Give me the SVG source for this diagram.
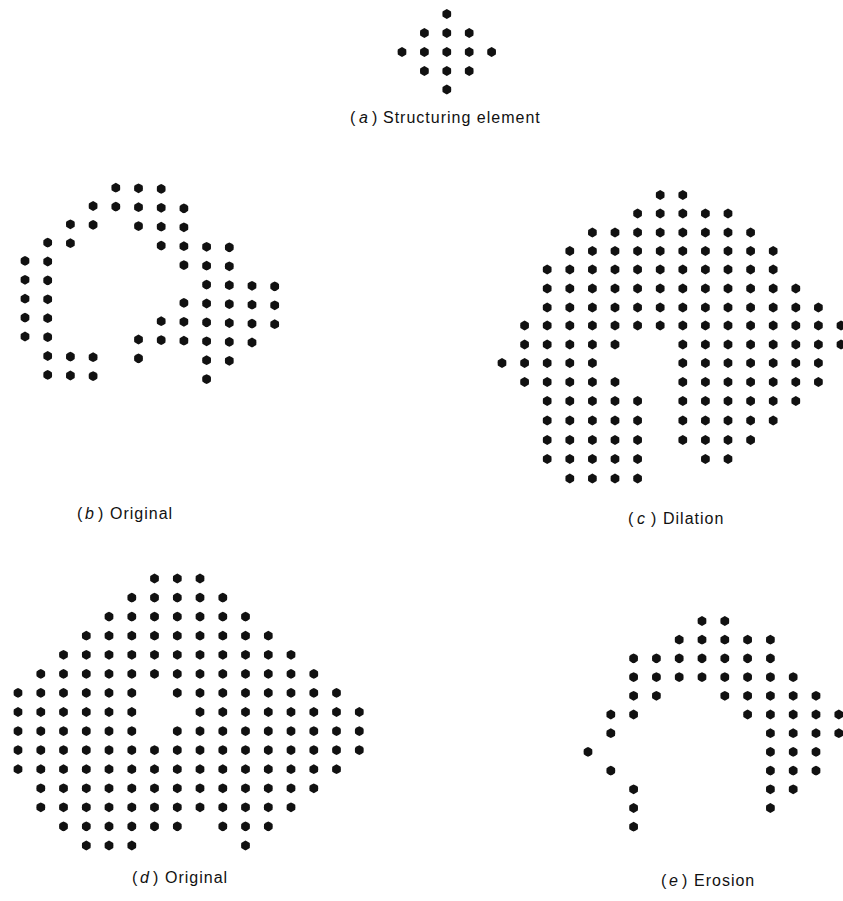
<svg xmlns="http://www.w3.org/2000/svg" width="843" height="901" viewBox="0 0 843 901">
<style>
.dot{fill:#111}
.lbl{font-family:"Liberation Sans",Arial,sans-serif;font-size:16px;fill:#111;letter-spacing:1px}
.it{font-style:italic}
</style>
<defs>
<polygon id="dot" class="dot" points="0,-4.9 2.2,-3.81 4.24,-2.45 4.4,0 4.24,2.45 2.2,3.81 0,4.9 -2.2,3.81 -4.24,2.45 -4.4,0 -4.24,-2.45 -2.2,-3.81"/>
</defs>
<rect width="843" height="901" fill="#fff"/>

<g id="panel-a">
<use href="#dot" x="446.8" y="14"/>
<use href="#dot" x="424.4" y="33"/><use href="#dot" x="446.8" y="33"/><use href="#dot" x="469.2" y="33"/>
<use href="#dot" x="402" y="52"/><use href="#dot" x="424.4" y="52"/><use href="#dot" x="446.8" y="52"/><use href="#dot" x="469.2" y="52"/><use href="#dot" x="491.6" y="52"/>
<use href="#dot" x="424.4" y="71"/><use href="#dot" x="446.8" y="71"/><use href="#dot" x="469.2" y="71"/>
<use href="#dot" x="446.8" y="89.5"/>
<text class="lbl" y="123"><tspan x="350">(</tspan><tspan x="359" class="it">a</tspan><tspan x="372">)</tspan><tspan x="383">Structuring element</tspan></text>
</g>

<g id="panel-b">
<use href="#dot" x="115.8" y="187.7"/><use href="#dot" x="138.5" y="188.3"/><use href="#dot" x="161.2" y="188.9"/>
<use href="#dot" x="93.1" y="206.0"/><use href="#dot" x="115.8" y="206.6"/><use href="#dot" x="138.5" y="207.2"/><use href="#dot" x="161.2" y="207.8"/><use href="#dot" x="183.9" y="208.4"/>
<use href="#dot" x="70.4" y="224.3"/><use href="#dot" x="93.1" y="224.9"/><use href="#dot" x="138.5" y="226.1"/><use href="#dot" x="161.2" y="226.7"/><use href="#dot" x="183.9" y="227.3"/>
<use href="#dot" x="47.7" y="242.6"/><use href="#dot" x="70.4" y="243.2"/><use href="#dot" x="161.2" y="245.6"/><use href="#dot" x="183.9" y="246.2"/><use href="#dot" x="206.6" y="246.8"/><use href="#dot" x="229.3" y="247.4"/>
<use href="#dot" x="25" y="260.9"/><use href="#dot" x="47.7" y="261.5"/><use href="#dot" x="183.9" y="265.1"/><use href="#dot" x="206.6" y="265.7"/><use href="#dot" x="229.3" y="266.3"/>
<use href="#dot" x="25" y="279.8"/><use href="#dot" x="47.7" y="280.4"/><use href="#dot" x="206.6" y="284.6"/><use href="#dot" x="229.3" y="285.2"/><use href="#dot" x="252" y="285.8"/><use href="#dot" x="274.7" y="286.4"/>
<use href="#dot" x="25" y="298.7"/><use href="#dot" x="47.7" y="299.3"/><use href="#dot" x="183.9" y="302.9"/><use href="#dot" x="206.6" y="303.5"/><use href="#dot" x="229.3" y="304.1"/><use href="#dot" x="252" y="304.7"/><use href="#dot" x="274.7" y="305.3"/>
<use href="#dot" x="25" y="317.6"/><use href="#dot" x="47.7" y="318.2"/><use href="#dot" x="161.2" y="321.2"/><use href="#dot" x="183.9" y="321.8"/><use href="#dot" x="206.6" y="322.4"/><use href="#dot" x="229.3" y="323.0"/><use href="#dot" x="252" y="323.6"/><use href="#dot" x="274.7" y="324.2"/>
<use href="#dot" x="25" y="336.5"/><use href="#dot" x="47.7" y="337.1"/><use href="#dot" x="138.5" y="339.5"/><use href="#dot" x="161.2" y="340.1"/><use href="#dot" x="183.9" y="340.7"/><use href="#dot" x="206.6" y="341.3"/><use href="#dot" x="229.3" y="341.9"/><use href="#dot" x="252" y="342.5"/>
<use href="#dot" x="47.7" y="356.0"/><use href="#dot" x="70.4" y="356.6"/><use href="#dot" x="93.1" y="357.2"/><use href="#dot" x="138.5" y="358.4"/><use href="#dot" x="206.6" y="360.2"/><use href="#dot" x="229.3" y="360.8"/>
<use href="#dot" x="47.7" y="374.9"/><use href="#dot" x="70.4" y="375.5"/><use href="#dot" x="93.1" y="376.1"/><use href="#dot" x="206.6" y="379.1"/>
<text class="lbl" y="519"><tspan x="77">(</tspan><tspan x="85" class="it">b</tspan><tspan x="98">)</tspan><tspan x="110">Original</tspan></text>
</g>

<g id="panel-c">
<g transform="translate(0,195)"><use href="#dot" x="660.2"/><use href="#dot" x="682.8"/></g>
<g transform="translate(0,213.5)"><use href="#dot" x="637.6"/><use href="#dot" x="660.2"/><use href="#dot" x="682.8"/><use href="#dot" x="705.4"/><use href="#dot" x="728"/></g>
<g transform="translate(0,232.5)"><use href="#dot" x="592.4"/><use href="#dot" x="615"/><use href="#dot" x="637.6"/><use href="#dot" x="660.2"/><use href="#dot" x="682.8"/><use href="#dot" x="705.4"/><use href="#dot" x="728"/><use href="#dot" x="750.6"/></g>
<g transform="translate(0,251)"><use href="#dot" x="569.8"/><use href="#dot" x="592.4"/><use href="#dot" x="615"/><use href="#dot" x="637.6"/><use href="#dot" x="660.2"/><use href="#dot" x="682.8"/><use href="#dot" x="705.4"/><use href="#dot" x="728"/><use href="#dot" x="750.6"/><use href="#dot" x="773.2"/></g>
<g transform="translate(0,269.5)"><use href="#dot" x="547.2"/><use href="#dot" x="569.8"/><use href="#dot" x="592.4"/><use href="#dot" x="615"/><use href="#dot" x="637.6"/><use href="#dot" x="660.2"/><use href="#dot" x="682.8"/><use href="#dot" x="705.4"/><use href="#dot" x="728"/><use href="#dot" x="750.6"/><use href="#dot" x="773.2"/></g>
<g transform="translate(0,288.5)"><use href="#dot" x="547.2"/><use href="#dot" x="569.8"/><use href="#dot" x="592.4"/><use href="#dot" x="615"/><use href="#dot" x="637.6"/><use href="#dot" x="660.2"/><use href="#dot" x="682.8"/><use href="#dot" x="705.4"/><use href="#dot" x="728"/><use href="#dot" x="750.6"/><use href="#dot" x="773.2"/><use href="#dot" x="795.8"/></g>
<g transform="translate(0,307.5)"><use href="#dot" x="547.2"/><use href="#dot" x="569.8"/><use href="#dot" x="592.4"/><use href="#dot" x="615"/><use href="#dot" x="637.6"/><use href="#dot" x="660.2"/><use href="#dot" x="682.8"/><use href="#dot" x="705.4"/><use href="#dot" x="728"/><use href="#dot" x="750.6"/><use href="#dot" x="773.2"/><use href="#dot" x="795.8"/><use href="#dot" x="818.4"/></g>
<g transform="translate(0,325.5)"><use href="#dot" x="524.6"/><use href="#dot" x="547.2"/><use href="#dot" x="569.8"/><use href="#dot" x="592.4"/><use href="#dot" x="615"/><use href="#dot" x="637.6"/><use href="#dot" x="660.2"/><use href="#dot" x="682.8"/><use href="#dot" x="705.4"/><use href="#dot" x="728"/><use href="#dot" x="750.6"/><use href="#dot" x="773.2"/><use href="#dot" x="795.8"/><use href="#dot" x="818.4"/><use href="#dot" x="841"/></g>
<g transform="translate(0,344.5)"><use href="#dot" x="524.6"/><use href="#dot" x="547.2"/><use href="#dot" x="569.8"/><use href="#dot" x="592.4"/><use href="#dot" x="615"/><use href="#dot" x="682.8"/><use href="#dot" x="705.4"/><use href="#dot" x="728"/><use href="#dot" x="750.6"/><use href="#dot" x="773.2"/><use href="#dot" x="795.8"/><use href="#dot" x="818.4"/><use href="#dot" x="841"/></g>
<g transform="translate(0,363)"><use href="#dot" x="502"/><use href="#dot" x="524.6"/><use href="#dot" x="547.2"/><use href="#dot" x="569.8"/><use href="#dot" x="592.4"/><use href="#dot" x="682.8"/><use href="#dot" x="705.4"/><use href="#dot" x="728"/><use href="#dot" x="750.6"/><use href="#dot" x="773.2"/><use href="#dot" x="795.8"/><use href="#dot" x="818.4"/></g>
<g transform="translate(0,382)"><use href="#dot" x="524.6"/><use href="#dot" x="547.2"/><use href="#dot" x="569.8"/><use href="#dot" x="592.4"/><use href="#dot" x="615"/><use href="#dot" x="682.8"/><use href="#dot" x="705.4"/><use href="#dot" x="728"/><use href="#dot" x="750.6"/><use href="#dot" x="773.2"/><use href="#dot" x="795.8"/><use href="#dot" x="818.4"/></g>
<g transform="translate(0,401)"><use href="#dot" x="547.2"/><use href="#dot" x="569.8"/><use href="#dot" x="592.4"/><use href="#dot" x="615"/><use href="#dot" x="637.6"/><use href="#dot" x="682.8"/><use href="#dot" x="705.4"/><use href="#dot" x="728"/><use href="#dot" x="750.6"/><use href="#dot" x="773.2"/><use href="#dot" x="795.8"/></g>
<g transform="translate(0,420.5)"><use href="#dot" x="547.2"/><use href="#dot" x="569.8"/><use href="#dot" x="592.4"/><use href="#dot" x="615"/><use href="#dot" x="637.6"/><use href="#dot" x="682.8"/><use href="#dot" x="705.4"/><use href="#dot" x="728"/><use href="#dot" x="750.6"/><use href="#dot" x="773.2"/></g>
<g transform="translate(0,440)"><use href="#dot" x="547.2"/><use href="#dot" x="569.8"/><use href="#dot" x="592.4"/><use href="#dot" x="615"/><use href="#dot" x="637.6"/><use href="#dot" x="682.8"/><use href="#dot" x="705.4"/><use href="#dot" x="728"/><use href="#dot" x="750.6"/></g>
<g transform="translate(0,459)"><use href="#dot" x="547.2"/><use href="#dot" x="569.8"/><use href="#dot" x="592.4"/><use href="#dot" x="615"/><use href="#dot" x="637.6"/><use href="#dot" x="705.4"/><use href="#dot" x="728"/></g>
<g transform="translate(0,478.5)"><use href="#dot" x="569.8"/><use href="#dot" x="592.4"/><use href="#dot" x="615"/><use href="#dot" x="637.6"/></g>
<text class="lbl" y="524"><tspan x="628">(</tspan><tspan x="637" class="it">c</tspan><tspan x="651">)</tspan><tspan x="663">Dilation</tspan></text>
</g>

<g id="panel-d">
<g transform="translate(0,578.5)"><use href="#dot" x="154.5"/><use href="#dot" x="177.3"/><use href="#dot" x="200"/></g>
<g transform="translate(0,597.6)"><use href="#dot" x="131.8"/><use href="#dot" x="154.5"/><use href="#dot" x="177.3"/><use href="#dot" x="200"/><use href="#dot" x="222.8"/></g>
<g transform="translate(0,616.6)"><use href="#dot" x="109"/><use href="#dot" x="131.8"/><use href="#dot" x="154.5"/><use href="#dot" x="177.3"/><use href="#dot" x="200"/><use href="#dot" x="222.8"/><use href="#dot" x="245.5"/></g>
<g transform="translate(0,635.7)"><use href="#dot" x="86.3"/><use href="#dot" x="109"/><use href="#dot" x="131.8"/><use href="#dot" x="154.5"/><use href="#dot" x="177.3"/><use href="#dot" x="200"/><use href="#dot" x="222.8"/><use href="#dot" x="245.5"/><use href="#dot" x="268.3"/></g>
<g transform="translate(0,654.8)"><use href="#dot" x="63.5"/><use href="#dot" x="86.3"/><use href="#dot" x="109"/><use href="#dot" x="131.8"/><use href="#dot" x="154.5"/><use href="#dot" x="177.3"/><use href="#dot" x="200"/><use href="#dot" x="222.8"/><use href="#dot" x="245.5"/><use href="#dot" x="268.3"/><use href="#dot" x="291"/></g>
<g transform="translate(0,673.9)"><use href="#dot" x="40.8"/><use href="#dot" x="63.5"/><use href="#dot" x="86.3"/><use href="#dot" x="109"/><use href="#dot" x="131.8"/><use href="#dot" x="154.5"/><use href="#dot" x="177.3"/><use href="#dot" x="200"/><use href="#dot" x="222.8"/><use href="#dot" x="245.5"/><use href="#dot" x="268.3"/><use href="#dot" x="291"/><use href="#dot" x="313.8"/></g>
<g transform="translate(0,692.9)"><use href="#dot" x="18"/><use href="#dot" x="40.8"/><use href="#dot" x="63.5"/><use href="#dot" x="86.3"/><use href="#dot" x="109"/><use href="#dot" x="131.8"/><use href="#dot" x="177.3"/><use href="#dot" x="200"/><use href="#dot" x="222.8"/><use href="#dot" x="245.5"/><use href="#dot" x="268.3"/><use href="#dot" x="291"/><use href="#dot" x="313.8"/><use href="#dot" x="336.5"/></g>
<g transform="translate(0,712)"><use href="#dot" x="18"/><use href="#dot" x="40.8"/><use href="#dot" x="63.5"/><use href="#dot" x="86.3"/><use href="#dot" x="109"/><use href="#dot" x="131.8"/><use href="#dot" x="200"/><use href="#dot" x="222.8"/><use href="#dot" x="245.5"/><use href="#dot" x="268.3"/><use href="#dot" x="291"/><use href="#dot" x="313.8"/><use href="#dot" x="336.5"/><use href="#dot" x="359.3"/></g>
<g transform="translate(0,731.1)"><use href="#dot" x="18"/><use href="#dot" x="40.8"/><use href="#dot" x="63.5"/><use href="#dot" x="86.3"/><use href="#dot" x="109"/><use href="#dot" x="131.8"/><use href="#dot" x="177.3"/><use href="#dot" x="200"/><use href="#dot" x="222.8"/><use href="#dot" x="245.5"/><use href="#dot" x="268.3"/><use href="#dot" x="291"/><use href="#dot" x="313.8"/><use href="#dot" x="336.5"/><use href="#dot" x="359.3"/></g>
<g transform="translate(0,750.1)"><use href="#dot" x="18"/><use href="#dot" x="40.8"/><use href="#dot" x="63.5"/><use href="#dot" x="86.3"/><use href="#dot" x="109"/><use href="#dot" x="131.8"/><use href="#dot" x="154.5"/><use href="#dot" x="177.3"/><use href="#dot" x="200"/><use href="#dot" x="222.8"/><use href="#dot" x="245.5"/><use href="#dot" x="268.3"/><use href="#dot" x="291"/><use href="#dot" x="313.8"/><use href="#dot" x="336.5"/><use href="#dot" x="359.3"/></g>
<g transform="translate(0,769.2)"><use href="#dot" x="18"/><use href="#dot" x="40.8"/><use href="#dot" x="63.5"/><use href="#dot" x="86.3"/><use href="#dot" x="109"/><use href="#dot" x="131.8"/><use href="#dot" x="154.5"/><use href="#dot" x="177.3"/><use href="#dot" x="200"/><use href="#dot" x="222.8"/><use href="#dot" x="245.5"/><use href="#dot" x="268.3"/><use href="#dot" x="291"/><use href="#dot" x="313.8"/><use href="#dot" x="336.5"/></g>
<g transform="translate(0,788.3)"><use href="#dot" x="40.8"/><use href="#dot" x="63.5"/><use href="#dot" x="86.3"/><use href="#dot" x="109"/><use href="#dot" x="131.8"/><use href="#dot" x="154.5"/><use href="#dot" x="177.3"/><use href="#dot" x="200"/><use href="#dot" x="222.8"/><use href="#dot" x="245.5"/><use href="#dot" x="268.3"/><use href="#dot" x="291"/><use href="#dot" x="313.8"/></g>
<g transform="translate(0,807.3)"><use href="#dot" x="40.8"/><use href="#dot" x="63.5"/><use href="#dot" x="86.3"/><use href="#dot" x="109"/><use href="#dot" x="131.8"/><use href="#dot" x="154.5"/><use href="#dot" x="177.3"/><use href="#dot" x="200"/><use href="#dot" x="222.8"/><use href="#dot" x="245.5"/><use href="#dot" x="268.3"/><use href="#dot" x="291"/></g>
<g transform="translate(0,826.4)"><use href="#dot" x="63.5"/><use href="#dot" x="86.3"/><use href="#dot" x="109"/><use href="#dot" x="131.8"/><use href="#dot" x="154.5"/><use href="#dot" x="177.3"/><use href="#dot" x="222.8"/><use href="#dot" x="245.5"/><use href="#dot" x="268.3"/></g>
<g transform="translate(0,845.5)"><use href="#dot" x="86.3"/><use href="#dot" x="109"/><use href="#dot" x="131.8"/><use href="#dot" x="245.5"/></g>
<text class="lbl" y="883"><tspan x="132">(</tspan><tspan x="140" class="it">d</tspan><tspan x="153">)</tspan><tspan x="165">Original</tspan></text>
</g>

<g id="panel-e">
<g transform="translate(0,621)"><use href="#dot" x="702"/><use href="#dot" x="724.8"/></g>
<g transform="translate(0,639.7)"><use href="#dot" x="679.2"/><use href="#dot" x="702"/><use href="#dot" x="724.8"/><use href="#dot" x="747.6"/><use href="#dot" x="770.4"/></g>
<g transform="translate(0,658.4)"><use href="#dot" x="633.6"/><use href="#dot" x="656.4"/><use href="#dot" x="679.2"/><use href="#dot" x="702"/><use href="#dot" x="724.8"/><use href="#dot" x="747.6"/><use href="#dot" x="770.4"/></g>
<g transform="translate(0,677.1)"><use href="#dot" x="633.6"/><use href="#dot" x="656.4"/><use href="#dot" x="679.2"/><use href="#dot" x="702"/><use href="#dot" x="724.8"/><use href="#dot" x="747.6"/><use href="#dot" x="770.4"/><use href="#dot" x="793.2"/></g>
<g transform="translate(0,695.8)"><use href="#dot" x="633.6"/><use href="#dot" x="656.4"/><use href="#dot" x="724.8"/><use href="#dot" x="747.6"/><use href="#dot" x="770.4"/><use href="#dot" x="793.2"/><use href="#dot" x="816"/></g>
<g transform="translate(0,714.5)"><use href="#dot" x="610.8"/><use href="#dot" x="633.6"/><use href="#dot" x="747.6"/><use href="#dot" x="770.4"/><use href="#dot" x="793.2"/><use href="#dot" x="816"/><use href="#dot" x="838.8"/></g>
<g transform="translate(0,733.2)"><use href="#dot" x="610.8"/><use href="#dot" x="770.4"/><use href="#dot" x="793.2"/><use href="#dot" x="816"/><use href="#dot" x="838.8"/></g>
<g transform="translate(0,751.9)"><use href="#dot" x="588"/><use href="#dot" x="770.4"/><use href="#dot" x="793.2"/><use href="#dot" x="816"/></g>
<g transform="translate(0,770.6)"><use href="#dot" x="610.8"/><use href="#dot" x="770.4"/><use href="#dot" x="793.2"/><use href="#dot" x="816"/></g>
<g transform="translate(0,789.3)"><use href="#dot" x="633.6"/><use href="#dot" x="770.4"/><use href="#dot" x="793.2"/></g>
<g transform="translate(0,808)"><use href="#dot" x="633.6"/><use href="#dot" x="770.4"/></g>
<g transform="translate(0,826.7)"><use href="#dot" x="633.6"/></g>
<text class="lbl" y="886"><tspan x="661">(</tspan><tspan x="669" class="it">e</tspan><tspan x="682">)</tspan><tspan x="694">Erosion</tspan></text>
</g>
</svg>
